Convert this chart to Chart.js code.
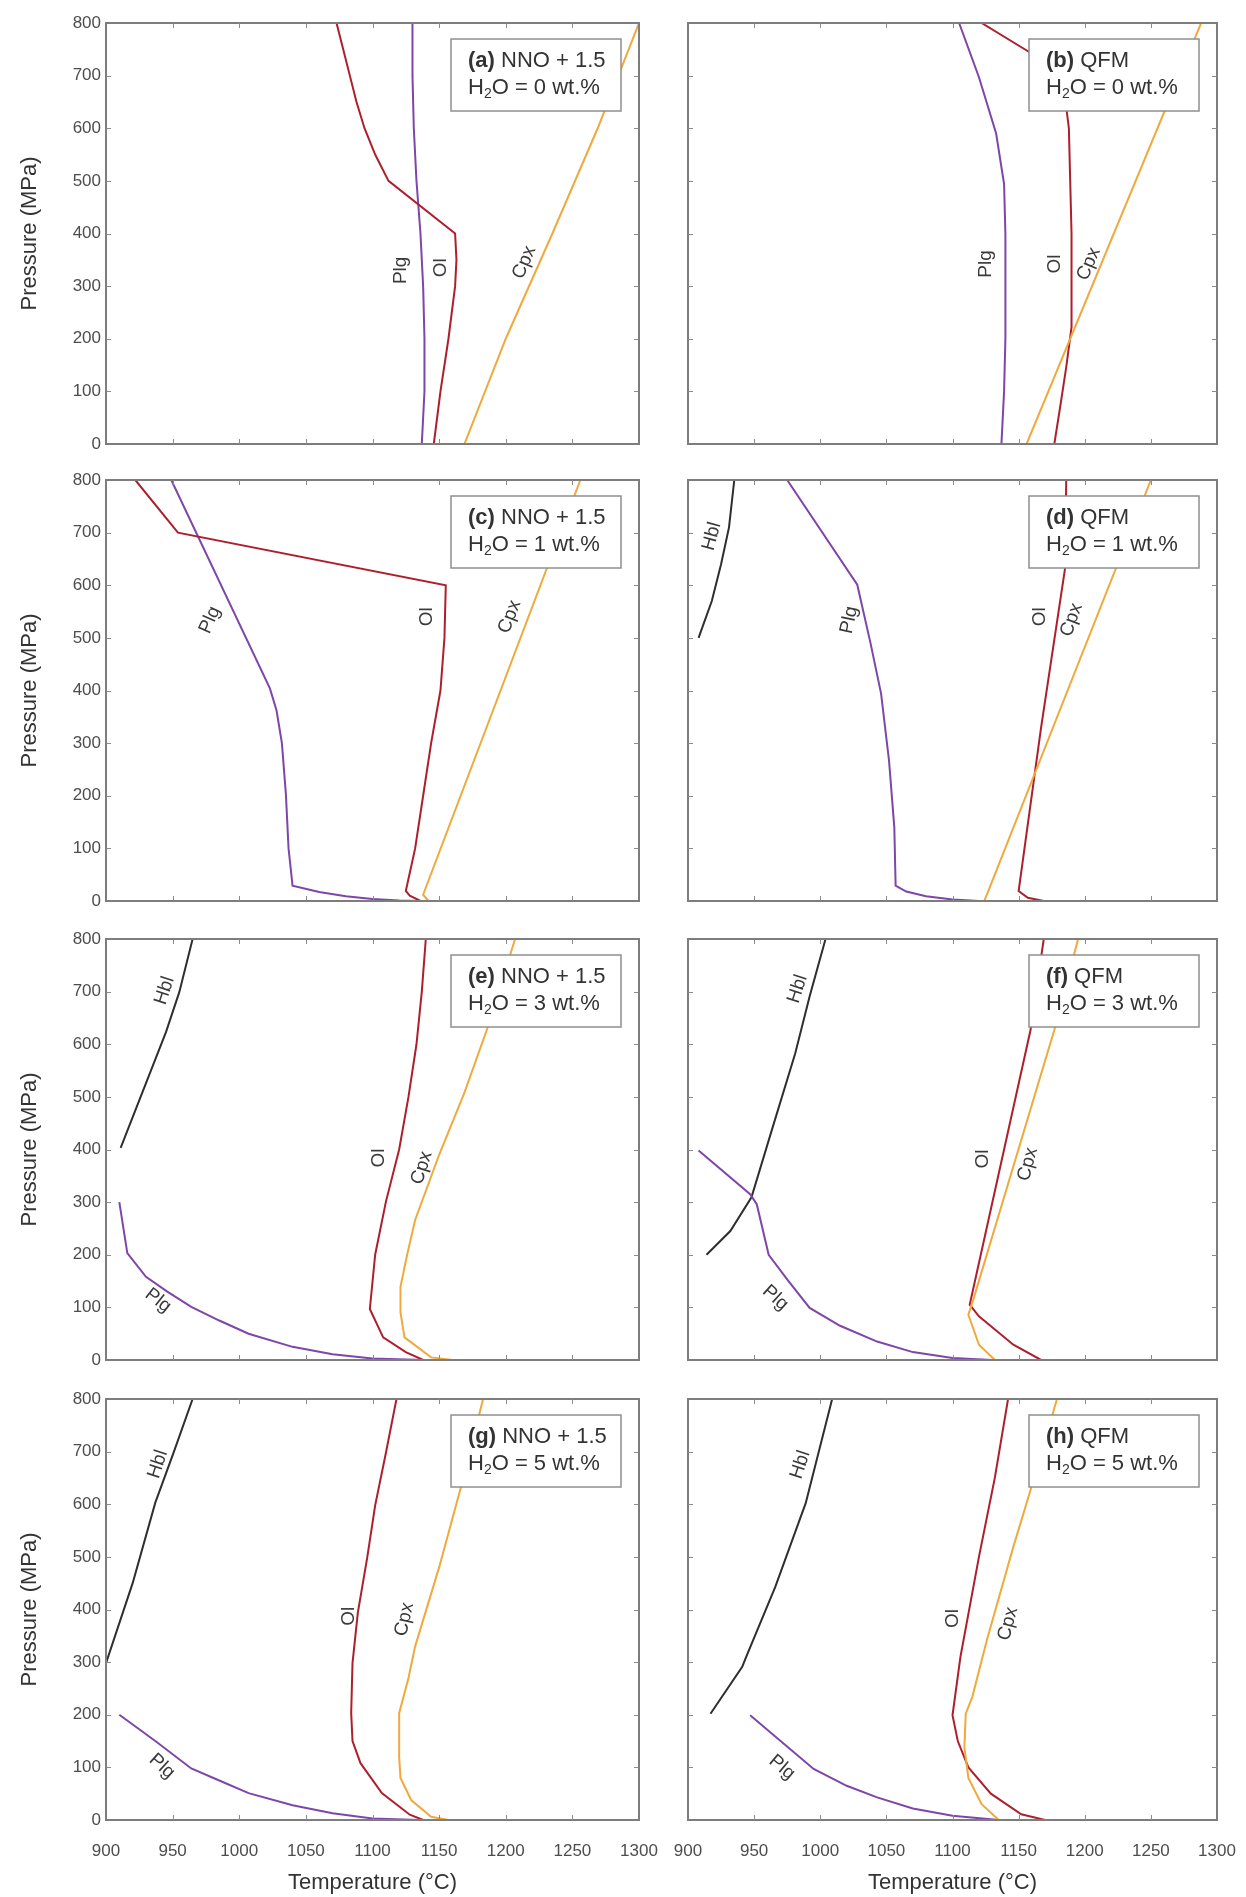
<!DOCTYPE html>
<html>
<head>
<meta charset="utf-8">
<title>Mineral-in curves, P-T sections</title>
<script src="https://cdn.jsdelivr.net/npm/chart.js@4.4.1/dist/chart.umd.min.js"></script>
<style>
  html, body { margin: 0; padding: 0; background: #fff; }
  #figure { position: relative; width: 1246px; height: 1897px; overflow: hidden; }
  #figure canvas { position: absolute; }
</style>
</head>
<body>
<div id="figure"></div>
<script>
// axis ticks
const tempTicks = [900, 950, 1000, 1050, 1100, 1150, 1200, 1250, 1300];
const pressTicks = [0, 100, 200, 300, 400, 500, 600, 700, 800];

// panel captions
const panelLetters = ['a', 'b', 'c', 'd', 'e', 'f', 'g', 'h'];
const bufferNames = ['NNO + 1.5', 'QFM', 'NNO + 1.5', 'QFM', 'NNO + 1.5', 'QFM', 'NNO + 1.5', 'QFM'];
const waterContents = [0, 0, 1, 1, 3, 3, 5, 5];

// curves as [temperature (°C), pressure (MPa)]
// (a) NNO+1.5, 0 wt.%
const plgA = [[1137,0],[1139,100],[1139,200],[1138,300],[1136,400],[1133,500],[1131,600],[1130,700],[1130,800]];
const olA = [[1146,0],[1151,100],[1157,200],[1162,300],[1163,350],[1162,400],[1112,500],[1102,550],[1094,600],[1088,650],[1083,700],[1078,750],[1073,800]];
const cpxA = [[1169,0],[1200,200],[1235,400],[1269,600],[1300,800]];
// (b) QFM, 0 wt.%
const plgB = [[1137,0],[1139,100],[1140,200],[1140,300],[1140,400],[1139,494],[1133,590],[1120,697],[1105,800]];
const olB = [[1177,0],[1182,80],[1186,146],[1190,222],[1190,300],[1190,400],[1189,500],[1188,600],[1185,660],[1175,710],[1158,745],[1122,800]];
const cpxB = [[1156,0],[1288,800]];
// (c) NNO+1.5, 1 wt.%
const plgC = [[1135,0],[1120,1],[1100,4],[1080,9],[1060,17],[1040,29],[1037,100],[1035,203],[1032,300],[1028,362],[1023,404],[949,800]];
const olC = [[1136,0],[1128,10],[1125,19],[1132,100],[1138,200],[1144,300],[1151,400],[1154,500],[1155,600],[954,700],[922,800]];
const cpxC = [[1142,0],[1138,12],[1256,800]];
// (d) QFM, 1 wt.%
const hblD = [[908,500],[918,570],[925,640],[931,710],[935,800]];
const plgD = [[1120,0],[1100,3],[1080,9],[1065,18],[1057,29],[1056,140],[1052,267],[1046,394],[1038,490],[1028,601],[975,800]];
const olD = [[1169,0],[1157,6],[1150,19],[1167,330],[1185,630],[1186,800]];
const cpxD = [[1124,0],[1126,12],[1250,800]];
// (e) NNO+1.5, 3 wt.%
const hblE = [[911,403],[945,623],[955,699],[965,800]];
const plgE = [[910,300],[916,203],[930,158],[946,130],[964,101],[985,75],[1007,50],[1040,25],[1070,11],[1100,3],[1138,0]];
const olE = [[1138,0],[1125,15],[1108,43],[1098,97],[1102,200],[1110,300],[1120,400],[1127,500],[1133,600],[1137,700],[1140,800]];
const cpxE = [[1160,0],[1144,5],[1124,43],[1121,91],[1121,139],[1126,200],[1132,266],[1150,390],[1169,508],[1186,629],[1207,800]];
// (f) QFM, 3 wt.%
const hblF = [[914,200],[932,245],[948,309],[964,442],[981,582],[992,691],[1004,800]];
const plgF = [[908,398],[947,315],[952,296],[961,200],[976,150],[992,99],[1015,65],[1043,35],[1070,15],[1100,4],[1130,0]];
const olF = [[1167,0],[1146,29],[1120,83],[1113,105],[1159,627],[1169,800]];
const cpxF = [[1132,0],[1120,29],[1112,86],[1116,117],[1177,627],[1195,800]];
// (g) NNO+1.5, 5 wt.%
const hblG = [[900,298],[920,450],[937,603],[951,700],[965,800]];
const plgG = [[910,200],[937,150],[964,98],[985,75],[1007,51],[1040,28],[1070,13],[1100,3],[1135,0]];
const olG = [[1138,0],[1128,10],[1107,51],[1091,108],[1085,150],[1084,203],[1085,298],[1089,394],[1096,498],[1102,598],[1110,697],[1118,800]];
const cpxG = [[1157,0],[1144,6],[1129,38],[1121,80],[1120,120],[1120,203],[1127,270],[1132,330],[1150,480],[1166,629],[1183,800]];
// (h) QFM, 5 wt.%
const hblH = [[917,202],[941,291],[944,310],[966,443],[989,602],[1009,800]];
const plgH = [[947,199],[970,150],[995,97],[1020,65],[1043,43],[1070,22],[1100,8],[1135,0]];
const olH = [[1170,0],[1152,11],[1129,50],[1112,100],[1104,150],[1100,199],[1106,310],[1120,500],[1132,650],[1142,800]];
const cpxH = [[1135,0],[1122,30],[1112,80],[1109,138],[1110,202],[1115,234],[1126,342],[1146,519],[1159,627],[1179,800]];

// phase name tags: [text, T, P, angle in degrees]
const tagsA = [['Plg',1121,330,-90],['Ol',1151,335,-90],['Cpx',1214,345,-67]];
const tagsB = [['Plg',1125,342,-90],['Ol',1177,342,-90],['Cpx',1203,342,-67]];
const tagsC = [['Plg',978,534,-66],['Ol',1141,540,-90],['Cpx',1203,540,-69]];
const tagsD = [['Hbl',918,693,-75],['Plg',1022,534,-78],['Ol',1166,540,-90],['Cpx',1190,534,-70]];
const tagsE = [['Hbl',944,702,-72],['Plg',939,113,38],['Ol',1105,384,-90],['Cpx',1137,365,-73]];
const tagsF = [['Hbl',983,705,-72],['Plg',966,118,42],['Ol',1123,382,-90],['Cpx',1157,372,-75]];
const tagsG = [['Hbl',939,676,-72],['Plg',942,102,42],['Ol',1082,387,-90],['Cpx',1124,381,-78]];
const tagsH = [['Hbl',985,675,-72],['Plg',971,100,40],['Ol',1100,383,-90],['Cpx',1142,373,-75]];

const panels = [
  { cpx: cpxA, ol: olA, plg: plgA, hbl: null, tags: tagsA },
  { cpx: cpxB, ol: olB, plg: plgB, hbl: null, tags: tagsB },
  { cpx: cpxC, ol: olC, plg: plgC, hbl: null, tags: tagsC },
  { cpx: cpxD, ol: olD, plg: plgD, hbl: hblD, tags: tagsD },
  { cpx: cpxE, ol: olE, plg: plgE, hbl: hblE, tags: tagsE },
  { cpx: cpxF, ol: olF, plg: plgF, hbl: hblF, tags: tagsF },
  { cpx: cpxG, ol: olG, plg: plgG, hbl: hblG, tags: tagsG },
  { cpx: cpxH, ol: olH, plg: plgH, hbl: hblH, tags: tagsH }
];

const COLORS = { cpx: '#f0a93c', ol: '#ad1f2c', plg: '#7d46a8', hbl: '#2e2e2e' };
const FONT = '"Liberation Sans", Arial, Helvetica, sans-serif';
const ROW_TOPS = [23, 480, 939, 1399];
const PLOT_H = 421;
const PLOT_LEFT = [106, 688];
const PLOT_RIGHT = [639, 1217];
const PAD = 30;

Chart.defaults.font.family = FONT;

// frame, inward ticks, caption box and phase names
const panelDecor = {
  id: 'panelDecor',
  afterDatasetsDraw(chart, args, opts) {
    const { ctx, chartArea: a } = chart;
    const xs = chart.scales.x, ys = chart.scales.y;

    ctx.save();
    ctx.fillStyle = '#3a3a3a';
    ctx.font = '19px ' + FONT;
    ctx.textAlign = 'center';
    ctx.textBaseline = 'middle';
    opts.tags.forEach(t => {
      ctx.save();
      ctx.translate(xs.getPixelForValue(t[1]), ys.getPixelForValue(t[2]));
      ctx.rotate(t[3] * Math.PI / 180);
      ctx.fillText(t[0], 0, 0);
      ctx.restore();
    });

    // caption box
    const bx = a.right - 188, by = a.top + 16, bw = 170, bh = 72;
    ctx.fillStyle = '#fff';
    ctx.fillRect(bx, by, bw, bh);
    ctx.strokeStyle = '#8f8f8f';
    ctx.lineWidth = 1.5;
    ctx.strokeRect(bx, by, bw, bh);

    ctx.fillStyle = '#333';
    ctx.textAlign = 'left';
    let tx = bx + 17;
    ctx.font = 'bold 22px ' + FONT;
    const lead = '(' + opts.letter + ')';
    ctx.fillText(lead, tx, by + 22);
    tx += ctx.measureText(lead + ' ').width;
    ctx.font = '22px ' + FONT;
    ctx.fillText(opts.buffer, tx, by + 22);

    tx = bx + 17;
    ctx.fillText('H', tx, by + 49);
    tx += ctx.measureText('H').width;
    ctx.font = '14px ' + FONT;
    ctx.fillText('2', tx, by + 55);
    tx += ctx.measureText('2').width;
    ctx.font = '22px ' + FONT;
    ctx.fillText('O = ' + opts.water + ' wt.%', tx, by + 49);

    // plot frame
    ctx.strokeStyle = '#7d7d7d';
    ctx.lineWidth = 2;
    ctx.strokeRect(a.left, a.top, a.width, a.height);

    // ticks pointing inward on all four sides
    ctx.strokeStyle = '#8a8a8a';
    ctx.lineWidth = 1;
    const len = 5;
    ctx.beginPath();
    tempTicks.slice(1, -1).forEach(v => {
      const px = Math.round(xs.getPixelForValue(v)) + 0.5;
      ctx.moveTo(px, a.bottom); ctx.lineTo(px, a.bottom - len);
      ctx.moveTo(px, a.top); ctx.lineTo(px, a.top + len);
    });
    pressTicks.slice(1, -1).forEach(v => {
      const py = Math.round(ys.getPixelForValue(v)) + 0.5;
      ctx.moveTo(a.left, py); ctx.lineTo(a.left + len, py);
      ctx.moveTo(a.right, py); ctx.lineTo(a.right - len, py);
    });
    ctx.stroke();
    ctx.restore();
  }
};

function curve(points, color) {
  return {
    data: points.map(p => ({ x: p[0], y: p[1] })),
    borderColor: color,
    backgroundColor: color,
    borderWidth: 2,
    pointRadius: 0,
    fill: false,
    tension: 0
  };
}

function makePanel(i) {
  const col = i % 2;
  const row = Math.floor(i / 2);
  const last = row === 3;
  const p = panels[i];

  // canvases overlap a little so edge tick labels are never cut
  const left = col === 0 ? 0 : 645;
  const width = col === 0 ? 700 : 620;
  const top = ROW_TOPS[row] - PAD;
  const height = last ? 1897 - top : PAD + PLOT_H + PAD;

  const canvas = document.createElement('canvas');
  canvas.width = width;
  canvas.height = height;
  canvas.style.left = left + 'px';
  canvas.style.top = top + 'px';
  canvas.style.width = width + 'px';
  canvas.style.height = height + 'px';
  document.getElementById('figure').appendChild(canvas);

  const datasets = [curve(p.cpx, COLORS.cpx), curve(p.ol, COLORS.ol), curve(p.plg, COLORS.plg)];
  if (p.hbl) datasets.push(curve(p.hbl, COLORS.hbl));

  new Chart(canvas, {
    type: 'line',
    data: { datasets },
    plugins: [panelDecor],
    options: {
      responsive: false,
      animation: false,
      events: [],
      layout: {
        padding: {
          left: col === 0 ? 0 : PLOT_LEFT[1] - left,
          right: left + width - PLOT_RIGHT[col],
          top: PAD,
          bottom: last ? 0 : PAD
        }
      },
      plugins: {
        legend: { display: false },
        tooltip: { enabled: false },
        panelDecor: {
          tags: p.tags,
          letter: panelLetters[i],
          buffer: bufferNames[i],
          water: waterContents[i]
        }
      },
      scales: {
        x: {
          type: 'linear',
          min: 900,
          max: 1300,
          display: last,
          grid: { display: false, drawTicks: false },
          border: { display: false },
          afterBuildTicks: s => { s.ticks = tempTicks.map(v => ({ value: v })); },
          afterFit: s => { s.height = last ? height - PAD - PLOT_H : 0; },
          ticks: {
            autoSkip: false,
            maxRotation: 0,
            padding: 21,
            color: '#4d4d4d',
            font: { size: 17 },
            callback: v => String(v)
          },
          title: {
            display: true,
            text: 'Temperature (°C)',
            color: '#333',
            font: { size: 22 },
            padding: { top: 0, bottom: 1 }
          }
        },
        y: {
          type: 'linear',
          min: 0,
          max: 800,
          display: col === 0,
          grid: { display: false, drawTicks: false },
          border: { display: false },
          afterBuildTicks: s => { s.ticks = pressTicks.map(v => ({ value: v })); },
          afterFit: s => { s.width = col === 0 ? PLOT_LEFT[0] : 0; },
          ticks: {
            autoSkip: false,
            padding: 5,
            color: '#4d4d4d',
            font: { size: 17 },
            callback: v => String(v)
          },
          title: {
            display: true,
            text: 'Pressure (MPa)',
            color: '#333',
            font: { size: 22 },
            padding: { top: 17, bottom: 0 }
          }
        }
      }
    }
  });
}

panels.forEach((p, i) => makePanel(i));
</script>
</body>
</html>
